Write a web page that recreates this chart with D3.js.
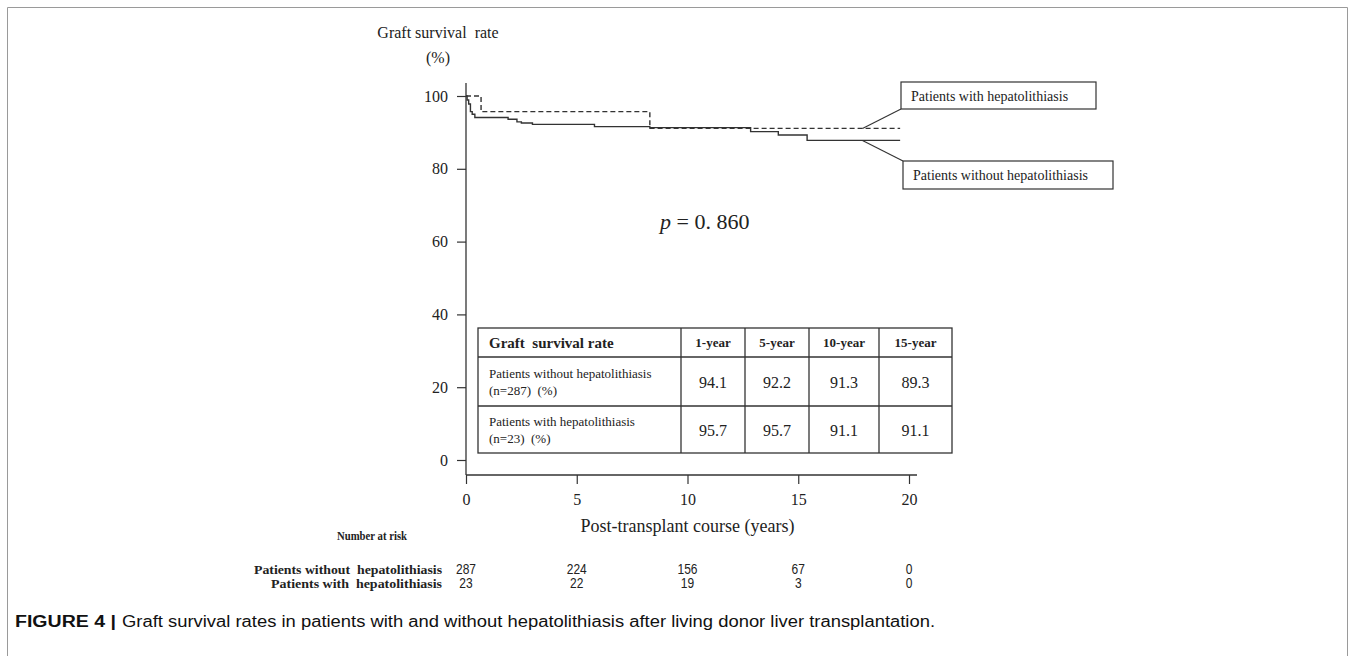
<!DOCTYPE html>
<html>
<head>
<meta charset="utf-8">
<script src="https://cdn.jsdelivr.net/npm/d3@7"></script>
<style>
  body { margin: 0; background: #fff; }
  svg { display: block; }
</style>
</head>
<body>
<svg id="chart" width="1355" height="664"></svg>
<script>
// Kaplan–Meier step data: time in years, graft survival in %
const withoutTimes = [0, 0.05, 0.12, 0.2, 0.28, 0.4, 1.9, 2.3, 2.5, 3.0, 5.8, 8.3, 12.85, 14.1, 15.4, 19.6];
const withoutSurv  = [100, 98.9, 97.8, 95.7, 95.0, 94.1, 93.6, 92.9, 92.6, 92.2, 91.6, 91.3, 90.2, 89.3, 87.8, 87.8];
const withTimes = [0, 0.68, 8.3, 19.6];
const withSurv  = [100, 95.7, 91.1, 91.1];

const xTicks = [0, 5, 10, 15, 20];
const yTicks = [0, 20, 40, 60, 80, 100];

// Summary table
const tableTitle = "Graft  survival rate";
const tableCols = ["1-year", "5-year", "10-year", "15-year"];
const tableRowLabels = [
  ["Patients without hepatolithiasis", "(n=287)  (%)"],
  ["Patients with hepatolithiasis", "(n=23)  (%)"]
];
const tableWithout = ["94.1", "92.2", "91.3", "89.3"];
const tableWith    = ["95.7", "95.7", "91.1", "91.1"];

// Number at risk
const riskLabels  = ["Patients without  hepatolithiasis", "Patients with  hepatolithiasis"];
const riskWithout = [287, 224, 156, 67, 0];
const riskWith    = [23, 22, 19, 3, 0];

const pValueText = "0. 860";
const seriesNames = ["Patients with hepatolithiasis", "Patients without hepatolithiasis"];

const svg = d3.select("#chart");
const serif = "'Liberation Serif', 'Times New Roman', serif";
const ink = "#222";

// Outer figure frame (open at the bottom)
svg.append("path")
  .attr("d", "M7.5,656 L7.5,7.5 L1347.5,7.5 L1347.5,656")
  .attr("fill", "none").attr("stroke", "#9a9a9a").attr("stroke-width", 1);

const x = d3.scaleLinear().domain([0, 20]).range([466, 909]);
const y = d3.scaleLinear().domain([0, 100]).range([460, 96]);
const xAxisY = 475;

// Axis lines
svg.append("line").attr("x1", x(0)).attr("x2", x(0)).attr("y1", 83).attr("y2", xAxisY)
  .attr("stroke", "#333").attr("stroke-width", 1.3);
svg.append("line").attr("x1", x(0)).attr("x2", x(20) + 8).attr("y1", xAxisY).attr("y2", xAxisY)
  .attr("stroke", "#333").attr("stroke-width", 1.3);

// Y axis ticks and labels
const yAxis = svg.append("g").attr("transform", `translate(${x(0)},0)`)
  .call(d3.axisLeft(y).tickValues(yTicks).tickSize(9).tickSizeOuter(0).tickPadding(9));
yAxis.select(".domain").remove();
yAxis.selectAll(".tick line").attr("stroke", "#333").attr("stroke-width", 1.2);
yAxis.selectAll(".tick text").attr("font-family", serif).attr("font-size", 16).attr("fill", ink);

// X axis ticks and labels
const xAxis = svg.append("g").attr("transform", `translate(0,${xAxisY})`)
  .call(d3.axisBottom(x).tickValues(xTicks).tickSize(9).tickSizeOuter(0).tickPadding(10));
xAxis.select(".domain").remove();
xAxis.selectAll(".tick line").attr("stroke", "#333").attr("stroke-width", 1.2);
xAxis.selectAll(".tick text").attr("font-family", serif).attr("font-size", 16).attr("fill", ink);

// Axis titles
svg.append("text").attr("x", 438).attr("y", 38).attr("text-anchor", "middle")
  .attr("font-family", serif).attr("font-size", 16).attr("fill", ink)
  .attr("xml:space", "preserve").text("Graft survival  rate");
svg.append("text").attr("x", 438).attr("y", 63).attr("text-anchor", "middle")
  .attr("font-family", serif).attr("font-size", 16).attr("fill", ink).text("(%)");
svg.append("text").attr("x", x(10)).attr("y", 532).attr("text-anchor", "middle")
  .attr("font-family", serif).attr("font-size", 18).attr("fill", ink).text("Post-transplant course (years)");

// Survival curves
const line = d3.line().x(d => x(d[0])).y(d => y(d[1])).curve(d3.curveStepAfter);
const withoutPts = withoutTimes.map((t, i) => [t, withoutSurv[i]]);
const withPts = withTimes.map((t, i) => [t, withSurv[i]]);

svg.append("path").datum(withoutPts).attr("d", line)
  .attr("fill", "none").attr("stroke", "#333").attr("stroke-width", 1.4);
svg.append("path").datum(withPts).attr("d", line)
  .attr("fill", "none").attr("stroke", "#333").attr("stroke-width", 1.4)
  .attr("stroke-dasharray", "5,3");

// Callout labels
const anchorT = 17.9;
function callout(name, lineVal, bx, by, bw, bh, attachTop) {
  const ax = x(anchorT), ay = y(lineVal);
  svg.append("line").attr("x1", ax).attr("y1", ay)
    .attr("x2", bx).attr("y2", attachTop ? by : by + bh)
    .attr("stroke", "#333").attr("stroke-width", 1.1);
  svg.append("rect").attr("x", bx).attr("y", by).attr("width", bw).attr("height", bh)
    .attr("fill", "#fff").attr("stroke", "#333").attr("stroke-width", 1.2);
  svg.append("text").attr("x", bx + 10).attr("y", by + bh / 2 + 5)
    .attr("font-family", serif).attr("font-size", 14).attr("fill", ink).text(name);
}
callout(seriesNames[0], withSurv[withSurv.length - 1], 901, 82, 195, 27, false);
callout(seriesNames[1], withoutSurv[withoutSurv.length - 1], 903, 161, 210, 28, true);

// p value
const pText = svg.append("text").attr("x", 660).attr("y", 229)
  .attr("font-family", serif).attr("font-size", 22).attr("fill", ink);
pText.append("tspan").attr("font-style", "italic").text("p");
pText.append("tspan").text(" = " + pValueText);

// Summary table
const colEdges = [478, 681, 745, 809, 879, 952];
const rowEdges = [328, 357, 406, 453];
const tbl = svg.append("g");
tbl.append("rect").attr("x", colEdges[0]).attr("y", rowEdges[0])
  .attr("width", colEdges[5] - colEdges[0]).attr("height", rowEdges[3] - rowEdges[0])
  .attr("fill", "#fff").attr("stroke", "#333").attr("stroke-width", 1.3);
rowEdges.slice(1, 3).forEach(ry => tbl.append("line")
  .attr("x1", colEdges[0]).attr("x2", colEdges[5]).attr("y1", ry).attr("y2", ry)
  .attr("stroke", "#333").attr("stroke-width", 1.3));
colEdges.slice(1, 5).forEach(cx => tbl.append("line")
  .attr("x1", cx).attr("x2", cx).attr("y1", rowEdges[0]).attr("y2", rowEdges[3])
  .attr("stroke", "#333").attr("stroke-width", 1.3));

tbl.append("text").attr("x", 489).attr("y", 348).attr("font-family", serif)
  .attr("font-weight", "bold").attr("font-size", 15).attr("fill", ink)
  .attr("xml:space", "preserve").text(tableTitle);
tableCols.forEach((c, i) => tbl.append("text")
  .attr("x", (colEdges[i + 1] + colEdges[i + 2]) / 2).attr("y", 347)
  .attr("text-anchor", "middle").attr("font-family", serif).attr("font-weight", "bold")
  .attr("font-size", 13).attr("fill", ink).text(c));

const rowValues = [tableWithout, tableWith];
tableRowLabels.forEach((lab, r) => {
  const top = rowEdges[r + 1], bot = rowEdges[r + 2], mid = (top + bot) / 2;
  tbl.append("text").attr("x", 489).attr("y", mid - 4).attr("font-family", serif)
    .attr("font-size", 13).attr("fill", ink).text(lab[0]);
  tbl.append("text").attr("x", 489).attr("y", mid + 13).attr("font-family", serif)
    .attr("font-size", 13).attr("fill", ink).attr("xml:space", "preserve").text(lab[1]);
  rowValues[r].forEach((v, i) => tbl.append("text")
    .attr("x", (colEdges[i + 1] + colEdges[i + 2]) / 2).attr("y", mid + 6)
    .attr("text-anchor", "middle").attr("font-family", serif)
    .attr("font-size", 16).attr("fill", ink).text(v));
});

// Number at risk
svg.append("text").attr("x", 372).attr("y", 540).attr("text-anchor", "middle")
  .attr("font-family", serif).attr("font-weight", "bold").attr("font-size", 13)
  .attr("fill", ink).attr("textLength", 70).attr("lengthAdjust", "spacingAndGlyphs")
  .text("Number at risk");
const riskRows = [riskWithout, riskWith];
const riskY = [574, 588];
const labelLens = [188, 171];
riskRows.forEach((vals, r) => {
  svg.append("text").attr("x", 442 - labelLens[r]).attr("y", riskY[r])
    .attr("font-family", serif).attr("font-weight", "bold").attr("font-size", 13)
    .attr("fill", ink).attr("xml:space", "preserve")
    .attr("textLength", labelLens[r]).attr("lengthAdjust", "spacingAndGlyphs")
    .text(riskLabels[r]);
  vals.forEach((v, i) => svg.append("text")
    .attr("transform", `translate(${x(xTicks[i])},${riskY[r]}) scale(0.8,1)`)
    .attr("text-anchor", "middle").attr("font-family", "'Liberation Sans', sans-serif")
    .attr("font-size", 15).attr("fill", ink).text(v));
});

// Caption
svg.append("text").attr("x", 15).attr("y", 627)
  .attr("font-family", "'Liberation Sans', sans-serif").attr("font-weight", "bold")
  .attr("font-size", 16).attr("fill", "#111")
  .attr("textLength", 101).attr("lengthAdjust", "spacingAndGlyphs").text("FIGURE 4 |");
svg.append("text").attr("x", 122).attr("y", 627)
  .attr("font-family", "'Liberation Sans', sans-serif").attr("font-size", 16).attr("fill", "#111")
  .attr("textLength", 813).attr("lengthAdjust", "spacingAndGlyphs")
  .text("Graft survival rates in patients with and without hepatolithiasis after living donor liver transplantation.");
</script>
</body>
</html>
